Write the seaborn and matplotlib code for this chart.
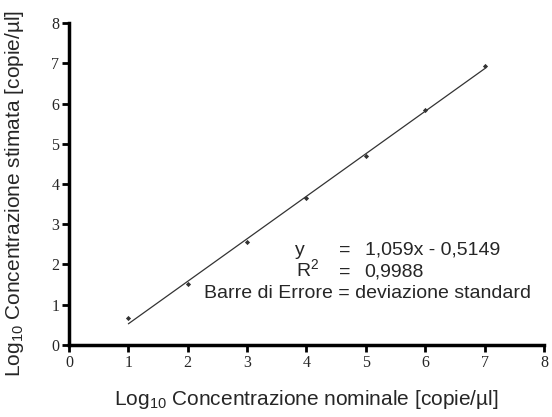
import pandas as pd
import seaborn as sns
import matplotlib.pyplot as plt

# log10 nominal vs estimated concentration
nominal = [1, 2, 3, 4, 5, 6, 7]
estimated = [0.66, 1.52, 2.57, 3.65, 4.70, 5.84, 6.93]
ticks = [0, 1, 2, 3, 4, 5, 6, 7, 8]
eq_lines = ['y', r'R$^{\mathrm{2}}$']
eq_values = ['1,059x - 0,5149', '0,9988']
note = 'Barre di Errore = deviazione standard'

sns.set_style('ticks')
plt.rcParams['font.family'] = ['Liberation Sans', 'DejaVu Sans']
plt.rcParams['mathtext.fontset'] = 'custom'
plt.rcParams['mathtext.rm'] = 'Liberation Sans'

df = pd.DataFrame({'nominal': nominal, 'estimated': estimated})

fig = plt.figure(figsize=(5.52, 4.17), dpi=100)
ax = fig.add_axes([0.125, 0.1727, 0.8605, 0.7721])

sns.regplot(data=df, x='nominal', y='estimated', ci=None, ax=ax,
            marker='D', color='black',
            scatter_kws={'s': 7, 'linewidths': 0},
            line_kws={'color': '#333333', 'linewidth': 0.9})

ax.set_xlim(0, 8)
ax.set_ylim(0, 8)
ax.set_xticks(ticks)
ax.set_yticks(ticks)
ax.set_xticklabels([str(t) for t in ticks], family='Liberation Serif', fontsize=11.5)
ax.set_yticklabels([str(t) for t in ticks], family='Liberation Serif', fontsize=11.5)
ax.tick_params(direction='out', length=5, width=2, color='black', pad=2)
sns.despine(ax=ax)
for s in ['left', 'bottom']:
    ax.spines[s].set_linewidth(2.5)
    ax.spines[s].set_color('black')

ax.set_xlabel('Log$_{\\mathrm{10}}$ Concentrazione nominale [copie/µl]', fontsize=15)
ax.set_ylabel('Log$_{\\mathrm{10}}$ Concentrazione stimata [copie/µl]', fontsize=15)
ax.xaxis.set_label_coords(0.5, -0.135)
ax.yaxis.set_label_coords(-0.09, 0.47)

# equation block
ax.text(3.8, 2.24, eq_lines[0], fontsize=14, va='baseline')
ax.text(4.55, 2.24, '=', fontsize=14, va='baseline')
ax.text(4.98, 2.24, eq_values[0], fontsize=14, va='baseline')
ax.text(3.82, 1.69, eq_lines[1], fontsize=14, va='baseline')
ax.text(4.55, 1.69, '=', fontsize=14, va='baseline')
ax.text(4.98, 1.69, eq_values[1], fontsize=14, va='baseline')
ax.text(2.28, 1.17, note, fontsize=14, va='baseline')

fig.savefig('out.png', dpi=100)
